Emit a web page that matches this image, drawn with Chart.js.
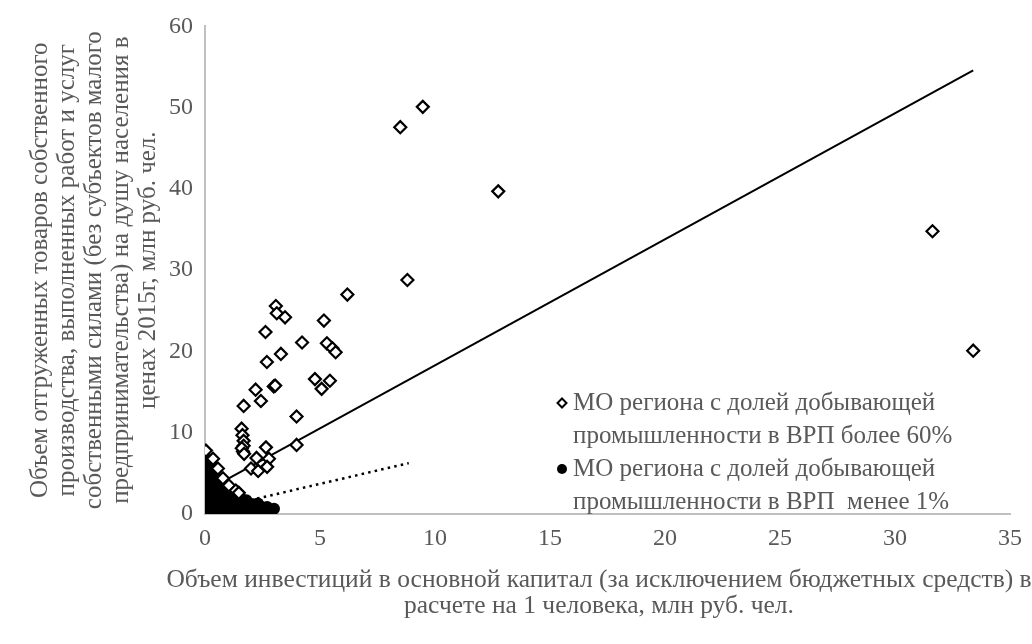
<!DOCTYPE html>
<html>
<head>
<meta charset="utf-8">
<script src="https://cdn.jsdelivr.net/npm/chart.js@4.4.1/dist/chart.umd.min.js"></script>
<style>
  html, body { margin: 0; padding: 0; background: #fff; }
</style>
</head>
<body>
<canvas id="myChart" width="1032" height="644"></canvas>
<script>
const ctx = document.getElementById('myChart')

// MO with mining share > 60% (x, y)
const miningX = [9.47, 8.49, 12.75, 8.8, 31.63, 33.4,
  6.19, 3.08, 3.12, 3.48, 5.17, 2.63, 4.22, 5.30, 5.54, 5.68, 3.30, 2.69,
  4.78, 5.43, 5.07, 2.99, 3.05, 2.20, 2.43, 1.68, 3.98, 1.59, 1.63, 1.68,
  1.68, 1.65, 2.65, 3.98, 2.24, 2.78, 2.0, 2.31, 2.70,
  0.04, 0.35, 0.56, 0.78, 1.04, 1.34, 1.47, 1.6, 1.7]
const miningY = [50.1, 47.6, 39.7, 28.8, 34.8, 20.1,
  27.0, 25.6, 24.7, 24.2, 23.8, 22.4, 21.1, 21.0, 20.4, 19.9, 19.7, 18.7,
  16.6, 16.4, 15.4, 15.7, 15.8, 15.3, 13.9, 13.3, 12.0, 10.5, 9.7, 9.0,
  8.4, 7.7, 8.2, 8.5, 6.9, 6.8, 5.6, 5.3, 5.8,
  7.8, 6.8, 5.6, 4.4, 3.5, 2.9, 2.6, 8.1, 7.4]

// MO with mining share < 1% (x, y)
const otherX = [0.05, 0.2, 0.0, 0.15, 0.3, 0.05, 0.25, 0.0, 0.2, 0.35,
  0.05, 0.25, 0.5, 0.0, 0.2, 0.45, 0.72, 0.05, 0.3, 0.6, 0.95,
  0.0, 0.25, 0.55, 0.85, 1.15, 1.38, 0.05, 0.35, 0.65, 0.95, 1.25, 1.55, 1.8,
  0.0, 0.3, 0.6, 0.9, 1.2, 1.5, 1.8, 2.1, 2.3,
  0.05, 0.35, 0.7, 1.0, 1.3, 1.6, 1.9, 2.2, 2.45, 2.7,
  0.0, 0.3, 0.6, 0.9, 1.2, 1.5, 1.8, 2.1, 2.4, 2.7, 3.0,
  0.1, 0.5, 0.9, 1.3, 1.7, 2.1, 2.5, 2.85]
const otherY = [6.7, 6.6, 6.2, 6.3, 6.1, 5.6, 5.5, 5.0, 5.1, 4.9,
  4.4, 4.5, 4.3, 3.8, 3.9, 3.7, 3.8, 3.2, 3.3, 3.1, 3.2,
  2.6, 2.7, 2.5, 2.6, 2.4, 2.5, 2.0, 2.1, 1.9, 2.0, 2.0, 1.9, 1.7,
  1.4, 1.5, 1.3, 1.4, 1.4, 1.3, 1.4, 1.2, 1.3,
  0.9, 0.9, 1.0, 0.8, 0.9, 0.9, 1.0, 0.8, 0.9, 0.85,
  0.5, 0.5, 0.4, 0.6, 0.5, 0.5, 0.4, 0.6, 0.5, 0.6, 0.65,
  0.1, 0.15, 0.1, 0.2, 0.1, 0.15, 0.2, 0.3]

// trend lines, end points
const trendMiningX = [0.04, 33.4]
const trendMiningY = [2.85, 54.6]
const trendOtherX = [0, 8.86]
const trendOtherY = [0.4, 6.26]

const legendLines = [
  ['МО региона с долей добывающей', 'промышленности в ВРП более 60%'],
  ['МО региона с долей добывающей', 'промышленности в ВРП  менее 1%']
]
const xTitle = ['Объем инвестиций в основной капитал (за исключением бюджетных средств) в',
  'расчете на 1 человека, млн руб. чел.']
const yTitle = ['Объем отгруженных товаров собственного',
  'производства, выполненных работ и услуг',
  'собственными силами (без субъектов малого',
  'предпринимательства) на душу населения в',
  'ценах 2015г, млн руб. чел.']

const toPoints = (xs, ys) => xs.map((x, i) => ({ x: x, y: ys[i] }))

const serif = '"Liberation Serif", "Times New Roman", serif'
const grey = '#595959'

// legend inside the plot + x title (wider than the plot, so drawn here)
const textPlugin = {
  id: 'extraText',
  afterDraw(chart) {
    const c = chart.ctx
    const left = 573
    const tops = [403, 469]
    c.save()
    c.font = '25px ' + serif
    c.fillStyle = grey
    c.textBaseline = 'middle'
    legendLines.forEach((lines, k) => {
      lines.forEach((t, j) => {
        c.fillText(t, left, tops[k] + j * 33)
      })
    })

    c.font = '25.5px ' + serif
    c.textAlign = 'center'
    xTitle.forEach((t, j) => {
      c.fillText(t, 599, 580 + j * 26)
    })

    // markers
    c.lineWidth = 2
    c.strokeStyle = '#000'
    c.fillStyle = '#fff'
    c.beginPath()
    c.moveTo(562, tops[0] - 4.5)
    c.lineTo(566.5, tops[0])
    c.lineTo(562, tops[0] + 4.5)
    c.lineTo(557.5, tops[0])
    c.closePath()
    c.fill()
    c.stroke()
    c.fillStyle = '#000'
    c.beginPath()
    c.arc(562, tops[1], 5, 0, Math.PI * 2)
    c.fill()
    c.restore()
  }
}

new Chart(ctx, {
  type: 'scatter',
  data: {
    datasets: [
      {
        label: legendLines[0].join(' '),
        data: toPoints(miningX, miningY),
        pointStyle: 'rectRot',
        pointRadius: 6,
        borderWidth: 2.2,
        borderColor: '#000',
        backgroundColor: '#fff'
      },
      {
        type: 'line',
        label: 'trend1',
        data: toPoints(trendMiningX, trendMiningY),
        borderColor: '#000',
        borderWidth: 2,
        pointRadius: 0
      },
      {
        type: 'line',
        label: 'trend2',
        data: toPoints(trendOtherX, trendOtherY),
        borderColor: '#000',
        borderWidth: 2.5,
        borderDash: [2.5, 4.2],
        pointRadius: 0
      },
      {
        label: legendLines[1].join(' '),
        data: toPoints(otherX, otherY),
        pointStyle: 'circle',
        pointRadius: 6,
        borderWidth: 0,
        backgroundColor: '#000'
      }
    ]
  },
  options: {
    responsive: false,
    animation: false,
    layout: { padding: { top: 22, right: 20, left: 0, bottom: 0 } },
    plugins: {
      legend: { display: false },
      tooltip: { enabled: false }
    },
    scales: {
      x: {
        type: 'linear',
        min: 0,
        max: 35,
        ticks: { stepSize: 5, color: grey, padding: 10, font: { family: serif, size: 24 } },
        grid: { display: false, drawTicks: false },
        border: { display: true, color: '#c0c0c0', width: 2 },
        afterFit: (scale) => { scale.height = 130 }
      },
      y: {
        min: 0,
        max: 60,
        ticks: { stepSize: 10, color: grey, padding: 12, font: { family: serif, size: 24 } },
        grid: { display: false, drawTicks: false },
        border: { display: true, color: '#c0c0c0', width: 2 },
        title: {
          display: true,
          text: yTitle,
          color: grey,
          font: { family: serif, size: 25, lineHeight: '27px' },
          padding: { top: 27, bottom: 0 }
        },
        afterFit: (scale) => { scale.width = 205 }
      }
    }
  },
  plugins: [textPlugin]
})
</script>
</body>
</html>
